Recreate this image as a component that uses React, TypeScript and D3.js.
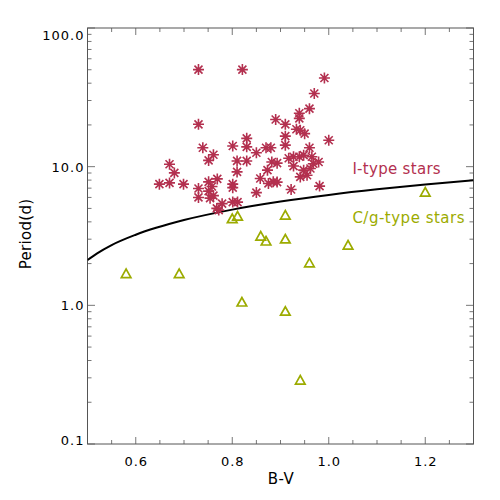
// Rotation period vs B-V colour, I-type and C/g-type stars split by a gyro line

import React from 'react';
import * as d3 from 'd3';

// I-type stars (asterisks): B-V colour and period in days
const iTypeBV = [
  0.730, 0.821, 0.730, 0.739, 0.761, 0.751, 0.801, 0.830, 0.830, 0.850,
  0.810, 0.830, 0.810, 0.670, 0.680, 0.649, 0.670, 0.699, 0.730, 0.730,
  0.751, 0.769, 0.758, 0.751, 0.761, 0.754, 0.801, 0.801, 0.850, 0.779,
  0.768, 0.772, 0.801, 0.811, 0.858, 0.873, 0.870, 0.880, 0.910, 0.910,
  0.960, 1.000, 0.927, 0.939, 0.917, 0.948, 0.965, 0.979, 0.968, 0.882,
  0.927, 0.948, 0.941, 0.955, 0.885, 0.875, 0.922, 0.981, 0.939, 0.939,
  0.933, 0.941, 0.950, 0.890, 0.910, 0.960, 0.970, 0.991, 0.893, 0.962,
  0.893,
];
const iTypePeriod = [
  50.1, 50.1, 20.2, 13.7, 12.2, 11.1, 14.1, 16.0, 13.9, 12.6,
  11.0, 11.0, 9.17, 10.4, 9.02, 7.48, 7.64, 7.48, 6.96, 6.00,
  7.77, 8.16, 7.20, 6.66, 6.18, 5.93, 7.48, 7.06, 6.50, 5.41,
  5.00, 4.86, 5.55, 5.55, 8.22, 9.44, 13.7, 13.7, 14.3, 16.6,
  13.7, 15.5, 11.8, 11.8, 11.5, 12.1, 11.8, 10.8, 10.5, 10.8,
  10.1, 9.44, 8.44, 8.68, 7.77, 7.57, 6.85, 7.24, 24.3, 22.3,
  18.6, 18.3, 17.3, 21.9, 20.2, 26.2, 33.7, 43.6, 10.6, 9.70,
  7.74,
];

// C/g-type stars (triangles)
const cgTypeBV = [0.580, 0.690, 0.800, 0.811, 0.820, 0.859, 0.870, 0.910, 0.910, 0.910, 0.941, 0.960, 1.040, 1.200];
const cgTypePeriod = [1.70, 1.70, 4.24, 4.42, 1.06, 3.17, 2.92, 4.49, 3.02, 0.91, 0.29, 2.03, 2.73, 6.58];

// dividing line between the two sequences
const dividerBV = [0.5, 0.52, 0.55, 0.6, 0.7, 0.8, 0.9, 1.0, 1.1, 1.2, 1.3];
const dividerPeriod = [2.12, 2.37, 2.72, 3.23, 4.12, 4.90, 5.60, 6.25, 6.86, 7.43, 7.98];

const xTickValues = [0.6, 0.8, 1.0, 1.2];
const xTickLabels = ['0.6', '0.8', '1.0', '1.2'];
const yTickValues = [100, 10, 1, 0.1];
const yTickLabels = ['100.0', '10.0', '1.0', '0.1'];

const starColor = '#b3304f';
const triColor = '#9cab00';
const axisColor = '#555';
const tickColor = '#777';
const font = '"DejaVu Sans", sans-serif';

const App = () => {
  const width = 500, height = 500;
  const margin = { top: 28, right: 26.5, bottom: 56, left: 87.5 };

  const x = d3.scaleLinear().domain([0.5, 1.3]).range([margin.left, width - margin.right]);
  const y = d3.scaleLog().domain([0.1, 100]).range([height - margin.bottom, margin.top]);
  const [x0, x1] = x.range();
  const [y0, y1] = y.range();

  // minor ticks every 0.05 on x, 2..9 in every decade on y
  const xMinor = d3.range(0.55, 1.3, 0.05).filter(v => !xTickValues.some(t => Math.abs(t - v) < 1e-6));
  const yMinor = [0.1, 1, 10].flatMap(d => d3.range(2, 10).map(k => d * k));

  const line = d3.line<number>()
    .x((_, i) => x(dividerBV[i]))
    .y(d => y(d))
    .curve(d3.curveMonotoneX);

  const starPath = 'M-5.5,0H5.5M0,-5.5V5.5M-4,-4L4,4M-4,4L4,-4';
  const triPath = 'M-4.8,4.2L0,-4.3L4.8,4.2Z';

  return (
    <svg width={width} height={height} style={{ position: 'fixed', left: 0, top: 0, background: '#fff' }}
      fontFamily={font}>
      <defs>
        <clipPath id="plot-clip"><rect x={x0} y={y1} width={x1 - x0} height={y0 - y1} /></clipPath>
      </defs>

      {/* ticks on all four sides */}
      <g stroke={tickColor} strokeWidth={1}>
        {xTickValues.map(v => <g key={`xM${v}`}>
          <line x1={x(v)} x2={x(v)} y1={y0} y2={y0 - 7} />
          <line x1={x(v)} x2={x(v)} y1={y1} y2={y1 + 7} />
        </g>)}
        {xMinor.map(v => <g key={`xm${v}`}>
          <line x1={x(v)} x2={x(v)} y1={y0} y2={y0 - 4} />
          <line x1={x(v)} x2={x(v)} y1={y1} y2={y1 + 4} />
        </g>)}
        {yTickValues.map(v => <g key={`yM${v}`}>
          <line x1={x0} x2={x0 + 7.5} y1={y(v)} y2={y(v)} />
          <line x1={x1} x2={x1 - 7.5} y1={y(v)} y2={y(v)} />
        </g>)}
        {yMinor.map(v => <g key={`ym${v}`}>
          <line x1={x0} x2={x0 + 4} y1={y(v)} y2={y(v)} />
          <line x1={x1} x2={x1 - 4} y1={y(v)} y2={y(v)} />
        </g>)}
      </g>
      <rect x={x0} y={y1} width={x1 - x0} height={y0 - y1} fill="none" stroke={axisColor} strokeWidth={1} />

      {/* tick labels */}
      {xTickValues.map((v, i) => <text key={`xl${v}`} x={x(v) + 0.5} y={y0 + 22} textAnchor="middle"
        fontSize={13} letterSpacing={1} fill="#000">{xTickLabels[i]}</text>)}
      {yTickValues.map((v, i) => {
        // first and last labels are pushed inside the axis span
        const shift = i === 0 ? 11.5 : i === yTickValues.length - 1 ? 1 : 5;
        return <text key={`yl${v}`} x={x0 - 3} y={y(v) + shift} textAnchor="end"
          fontSize={13} letterSpacing={1} fill="#000">{yTickLabels[i]}</text>;
      })}

      {/* axis titles */}
      <text x={281} y={483.5} textAnchor="middle" fontSize={15} letterSpacing={0.5}>B-V</text>
      <text transform="translate(31, 234) rotate(-90)" textAnchor="middle" fontSize={15} letterSpacing={0.3}>Period(d)</text>

      <g clipPath="url(#plot-clip)">
        <path d={line(dividerPeriod) || ''} fill="none" stroke="#000" strokeWidth={2} />
        {iTypeBV.map((bv, i) => <path key={`i${i}`} d={starPath} transform={`translate(${x(bv)},${y(iTypePeriod[i])})`}
          stroke={starColor} strokeWidth={1.6} fill="none" />)}
        {cgTypeBV.map((bv, i) => <path key={`c${i}`} d={triPath} transform={`translate(${x(bv)},${y(cgTypePeriod[i])})`}
          stroke={triColor} strokeWidth={1.7} fill="none" strokeLinejoin="miter" />)}
      </g>

      {/* sequence labels */}
      <text x={x(1.049)} y={y(8.79)} fontSize={15} letterSpacing={0.3} fill={starColor}>I-type stars</text>
      <text x={x(1.049)} y={y(3.9)} fontSize={15} letterSpacing={0.5} fill={triColor}>C/g-type stars</text>
    </svg>
  );
};

export default App;
